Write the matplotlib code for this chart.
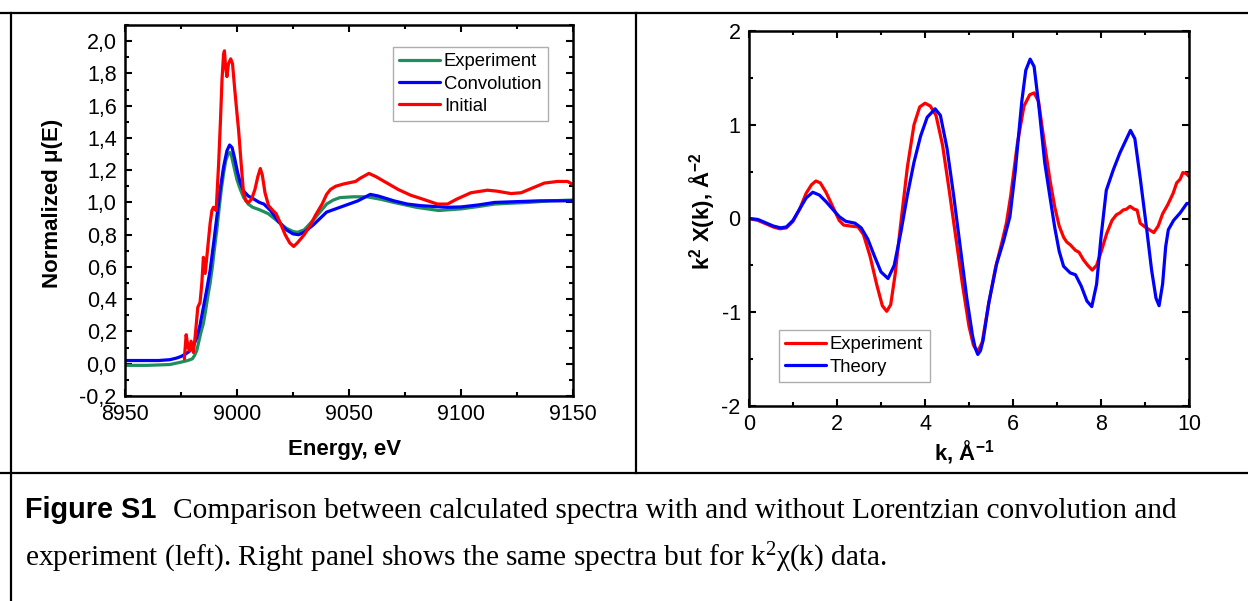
import matplotlib
matplotlib.use("Agg")
import matplotlib.pyplot as plt
from matplotlib.lines import Line2D
from matplotlib.ticker import MultipleLocator

plt.rcParams['font.family'] = ['Liberation Sans', 'DejaVu Sans']
plt.rcParams['mathtext.fontset'] = 'custom'
plt.rcParams['mathtext.rm'] = 'Liberation Sans:bold'
plt.rcParams['mathtext.bf'] = 'Liberation Sans:bold'
plt.rcParams['mathtext.default'] = 'rm'

# ---------------- Left panel data (XANES) ----------------
exp_E = [8950, 8960, 8970, 8975, 8978, 8980, 8981, 8982, 8983, 8984, 8985, 8986, 8987, 8988,
         8989, 8990, 8991, 8992, 8993, 8994, 8995, 8996, 8996.8, 8997.5, 8999, 9000, 9001.5,
         9003, 9005, 9007, 9010, 9014, 9018, 9022, 9025, 9027, 9030, 9034, 9037, 9040, 9043,
         9046, 9052, 9058, 9064, 9070, 9080, 9090, 9095, 9100, 9108, 9115, 9122, 9130, 9140, 9150]
exp_mu = [-0.01, -0.01, -0.005, 0.01, 0.02, 0.03, 0.05, 0.08, 0.14, 0.2, 0.25, 0.33, 0.42, 0.50,
          0.6, 0.72, 0.83, 0.96, 1.08, 1.18, 1.26, 1.30, 1.31, 1.29, 1.2, 1.14, 1.08,
          1.03, 0.99, 0.97, 0.955, 0.93, 0.885, 0.84, 0.82, 0.815, 0.83, 0.89, 0.94, 0.99, 1.015,
          1.03, 1.035, 1.035, 1.02, 1.0, 0.97, 0.95, 0.955, 0.96, 0.975, 0.99, 0.995, 1.0, 1.01, 1.015]

conv_E = [8950, 8965, 8970, 8973, 8975, 8977, 8979, 8980.5, 8982, 8983.5, 8985, 8986.5, 8988,
          8989.5, 8991, 8992.5, 8994, 8995.5, 8996.7, 8997.8, 8999, 9000.2, 9001.5, 9003, 9005,
          9007, 9010, 9012, 9015, 9018.6, 9022, 9025, 9027.5, 9030, 9034, 9037, 9040, 9045, 9049,
          9054, 9059.5, 9063, 9070, 9076, 9082, 9088, 9094, 9100, 9108, 9115, 9125, 9135, 9150]
conv_mu = [0.02, 0.02, 0.025, 0.035, 0.045, 0.06, 0.08, 0.11, 0.16, 0.24, 0.35, 0.46, 0.58,
           0.74, 0.91, 1.08, 1.22, 1.32, 1.356, 1.34, 1.27, 1.19, 1.12, 1.07, 1.04,
           1.025, 1.0, 0.99, 0.95, 0.88, 0.83, 0.805, 0.80, 0.815, 0.86, 0.9, 0.94, 0.965, 0.985,
           1.01, 1.05, 1.04, 1.01, 0.99, 0.98, 0.975, 0.97, 0.972, 0.985, 1.0, 1.005, 1.01, 1.01]

init_E = [8976.5, 8977.3, 8978.2, 8978.8, 8979.5, 8980.5, 8981.2, 8982.5, 8983.5, 8984.3, 8985,
          8985.8, 8986.8, 8988, 8988.8, 8989.5, 8990.7, 8991.8, 8992.6, 8993.3, 8994.0, 8994.4,
          8994.9, 8995.5, 8996.2, 8997.2, 8998, 8999, 9000, 9000.7, 9001.8, 9002.9, 9004, 9005.2,
          9006.5, 9008, 9009.3, 9010.4, 9011.3, 9012.5, 9014.1, 9016, 9017.5, 9019.4, 9021.5,
          9023.5, 9025.3, 9027, 9030, 9032.8, 9035, 9038, 9040, 9041.7, 9044, 9047.7, 9052.9,
          9055, 9058.9, 9062, 9067, 9072, 9077.5, 9083, 9089.4, 9094, 9098, 9104.4, 9111.8, 9116,
          9122.3, 9126.8, 9132, 9137.2, 9143, 9147.6, 9150]
init_mu = [0.03, 0.18, 0.10, 0.08, 0.14, 0.07, 0.15, 0.35, 0.38, 0.50, 0.66,
           0.56, 0.70, 0.87, 0.95, 0.97, 0.95, 1.24, 1.5, 1.76, 1.92, 1.94,
           1.84, 1.78, 1.86, 1.89, 1.86, 1.7, 1.55, 1.45, 1.25, 1.06, 1.01, 1.0,
           1.02, 1.08, 1.16, 1.21, 1.17, 1.06, 0.98, 0.95, 0.93, 0.87, 0.8,
           0.75, 0.727, 0.75, 0.8, 0.86, 0.92, 0.99, 1.05, 1.08, 1.1, 1.115, 1.13,
           1.15, 1.18, 1.16, 1.12, 1.08, 1.045, 1.02, 0.99, 0.99, 1.02, 1.06, 1.076, 1.07,
           1.055, 1.06, 1.09, 1.12, 1.13, 1.13, 1.11]

left_labels = ['Experiment', 'Convolution', 'Initial']
left_colors = ['#1e8f5c', '#0000ff', '#ff0000']
left_xticks = [8950, 9000, 9050, 9100, 9150]
left_yticks = [-0.2, 0.0, 0.2, 0.4, 0.6, 0.8, 1.0, 1.2, 1.4, 1.6, 1.8, 2.0]
left_yticklabels = ['-0,2', '0,0', '0,2', '0,4', '0,6', '0,8', '1,0', '1,2', '1,4', '1,6', '1,8', '2,0']

# ---------------- Right panel data (EXAFS) ----------------
expk_k = [0, 0.2, 0.4, 0.55, 0.7, 0.85, 1.0, 1.15, 1.3, 1.42, 1.52, 1.62, 1.75, 1.9, 2.05, 2.15,
          2.3, 2.48, 2.6, 2.75, 2.9, 3.03, 3.13, 3.22, 3.32, 3.45, 3.6, 3.75, 3.88, 4.0, 4.12,
          4.25, 4.4, 4.55, 4.7, 4.85, 5.0, 5.1, 5.2, 5.3, 5.45, 5.6, 5.75, 5.85, 5.95, 6.1, 6.25,
          6.38, 6.48, 6.58, 6.7, 6.84, 6.95, 7.05, 7.15, 7.22, 7.3, 7.42, 7.5, 7.6, 7.7, 7.8,
          7.9, 8.0, 8.13, 8.25, 8.35, 8.43, 8.5, 8.58, 8.66, 8.75, 8.82, 8.89, 9.0, 9.1, 9.2,
          9.3, 9.4, 9.52, 9.64, 9.72, 9.8, 9.86, 9.93, 10.0]
expk_chi = [0.0, -0.02, -0.06, -0.09, -0.11, -0.10, -0.03, 0.1, 0.27, 0.36, 0.40, 0.38, 0.28, 0.13,
            -0.02, -0.07, -0.08, -0.09, -0.17, -0.4, -0.7, -0.93, -0.99, -0.92, -0.6, -0.05, 0.55,
            1.0, 1.19, 1.23, 1.2, 1.1, 0.78, 0.3, -0.2, -0.7, -1.15, -1.35, -1.42, -1.32, -0.9,
            -0.53, -0.25, -0.05, 0.25, 0.8, 1.2, 1.32, 1.34, 1.25, 0.85, 0.41, 0.12, -0.08, -0.2,
            -0.25, -0.28, -0.34, -0.36, -0.44, -0.5, -0.55, -0.5, -0.36, -0.16, -0.02, 0.04, 0.06,
            0.09, 0.1, 0.13, 0.1, 0.09, -0.05, -0.09, -0.12, -0.15, -0.08, 0.05, 0.15, 0.27, 0.38,
            0.42, 0.49, 0.48, 0.45]

theo_k = [0, 0.2, 0.4, 0.55, 0.72, 0.85, 1.0, 1.15, 1.3, 1.45, 1.6, 1.75, 1.9, 2.05, 2.2, 2.41,
          2.55, 2.7, 2.85, 3.0, 3.16, 3.3, 3.45, 3.6, 3.75, 3.9, 4.05, 4.23, 4.35, 4.5, 4.65,
          4.8, 4.95, 5.08, 5.14, 5.2, 5.26, 5.32, 5.45, 5.63, 5.78, 5.93, 6.05, 6.2, 6.29, 6.39,
          6.48, 6.59, 6.72, 6.84, 6.95, 7.05, 7.15, 7.3, 7.42, 7.55, 7.68, 7.79, 7.9, 8.0, 8.12,
          8.28, 8.43, 8.55, 8.67, 8.77, 8.9, 9.04, 9.15, 9.25, 9.32, 9.4, 9.47, 9.53, 9.65, 9.8,
          9.95, 10.0]
theo_chi = [0.0, -0.01, -0.05, -0.08, -0.10, -0.09, -0.02, 0.1, 0.22, 0.28, 0.25, 0.18, 0.1, 0.02,
            -0.03, -0.05, -0.1, -0.22, -0.4, -0.57, -0.64, -0.5, -0.15, 0.25, 0.6, 0.88, 1.08,
            1.17, 1.1, 0.75, 0.25, -0.3, -0.85, -1.25, -1.38, -1.45, -1.41, -1.3, -0.9, -0.48,
            -0.25, 0.02, 0.5, 1.25, 1.58, 1.70, 1.62, 1.19, 0.6, 0.23, -0.1, -0.35, -0.51, -0.58,
            -0.60, -0.72, -0.88, -0.94, -0.7, -0.2, 0.3, 0.52, 0.70, 0.82, 0.94, 0.85, 0.4, -0.12,
            -0.55, -0.85, -0.93, -0.7, -0.3, -0.12, -0.02, 0.06, 0.16, 0.16]

right_labels = ['Experiment', 'Theory']
right_colors = ['#ff0000', '#0000ff']
right_xticks = [0, 2, 4, 6, 8, 10]
right_yticks = [-2, -1, 0, 1, 2]
right_yticklabels = ['-2', '-1', '0', '1', '2']

caption_bold = 'Figure S1'
caption_line1 = 'Comparison between calculated spectra with and without Lorentzian convolution and'
caption_line2 = 'experiment (left). Right panel shows the same spectra but for k$^{2}$\u03c7(k) data.'

# ---------------- Figure ----------------
W, H = 1248, 601
fig = plt.figure(figsize=(W / 100, H / 100), dpi=100)


def fx(px):
    return px / W


def fy(py):
    return 1 - py / H


TICK_FS = 15.5
LABEL_FS = 16
LEG_FS = 13.3
LW = 2.3


def style_axes(ax):
    for s in ax.spines.values():
        s.set_linewidth(1.8)
    ax.tick_params(which='both', direction='in', top=True, right=True,
                   labelsize=TICK_FS, width=1.5, pad=6)
    ax.tick_params(which='major', length=5)
    ax.tick_params(which='minor', length=3)


line_kw = dict(lw=LW, solid_joinstyle='round', solid_capstyle='round')

# Left axes
axL = fig.add_axes([fx(125), fy(396), fx(573 - 125), (396 - 25) / H])
for E, mu, lab, col in zip([exp_E, conv_E, init_E], [exp_mu, conv_mu, init_mu],
                           left_labels, left_colors):
    axL.plot(E, mu, color=col, label=lab, **line_kw)
axL.set_xlim(8950, 9150)
axL.set_ylim(-0.2, 2.1)
axL.set_xticks(left_xticks)
axL.set_yticks(left_yticks)
axL.set_yticklabels(left_yticklabels)
axL.xaxis.set_minor_locator(MultipleLocator(25))
axL.yaxis.set_minor_locator(MultipleLocator(0.1))
style_axes(axL)
axL.set_xlabel('Energy, eV', fontsize=LABEL_FS, fontweight='bold')
axL.set_ylabel('Normalized \u03bc(E)', fontsize=LABEL_FS, fontweight='bold')
axL.xaxis.set_label_coords(0.49, -0.115)
axL.yaxis.set_label_coords(-0.139, 0.52)

leg_kw = dict(loc='upper left', fontsize=LEG_FS, frameon=True, fancybox=False,
              edgecolor='#9a9a9a', handlelength=2.2, handletextpad=0.2, borderpad=0.35,
              labelspacing=0.28, borderaxespad=0)
legL = axL.legend(bbox_to_anchor=((393 - 125) / 448, (396 - 47) / 371), **leg_kw)
legL.get_frame().set_linewidth(1.0)

# Right axes
axR = fig.add_axes([fx(749), fy(406), fx(1189 - 749), (406 - 31) / H])
axR.plot(expk_k, expk_chi, color=right_colors[0], label=right_labels[0], **line_kw)
axR.plot(theo_k, theo_chi, color=right_colors[1], label=right_labels[1], **line_kw)
axR.set_xlim(0, 10)
axR.set_ylim(-2, 2)
axR.set_xticks(right_xticks)
axR.set_yticks(right_yticks)
axR.set_yticklabels(right_yticklabels)
axR.xaxis.set_minor_locator(MultipleLocator(1))
axR.yaxis.set_minor_locator(MultipleLocator(0.5))
style_axes(axR)
axR.set_xlabel('k, \u00c5$^{-1}$', fontsize=LABEL_FS, fontweight='bold')
axR.set_ylabel('k$^{2}$ X(k), \u00c5$^{-2}$', fontsize=LABEL_FS, fontweight='bold')
axR.xaxis.set_label_coords(0.49, -0.085)
axR.yaxis.set_label_coords(-0.072, 0.519)
legR = axR.legend(bbox_to_anchor=((779 - 749) / 440, (406 - 330) / 375), **leg_kw)
legR.get_frame().set_linewidth(1.0)

# Frame lines (table borders)
frame_kw = dict(color='black', lw=1.6, transform=fig.transFigure)
fig.add_artist(Line2D([0, 1], [fy(13), fy(13)], **frame_kw))
fig.add_artist(Line2D([fx(11), fx(11)], [fy(13), 0], **frame_kw))
fig.add_artist(Line2D([fx(636), fx(636)], [fy(13), fy(473)], **frame_kw))
fig.add_artist(Line2D([0, 1], [fy(473), fy(473)], **frame_kw))

# Caption
CAP_FS = 21.2
t1 = fig.text(fx(25), fy(518), caption_bold, fontsize=20.8, fontweight='bold',
              family=['Liberation Sans', 'DejaVu Sans'], va='baseline', ha='left')
fig.canvas.draw()
bb = t1.get_window_extent()
fig.text(bb.x1 / W + fx(17), fy(518), caption_line1, fontsize=CAP_FS,
         family=['Liberation Serif', 'DejaVu Serif'], va='baseline', ha='left')
plt.rcParams['mathtext.rm'] = 'Liberation Serif'
fig.text(fx(25), fy(566), caption_line2, fontsize=CAP_FS,
         family=['Liberation Serif', 'DejaVu Serif'], va='baseline', ha='left')

fig.savefig('out.png', dpi=100)
